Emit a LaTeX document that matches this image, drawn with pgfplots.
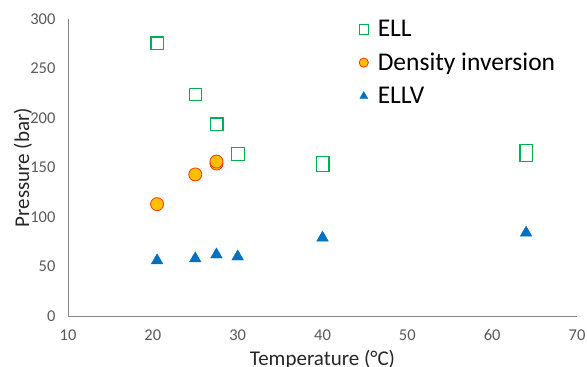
\documentclass[border=0pt]{standalone}
\usepackage{fontspec}
\setmainfont{Carlito}
\usepackage{pgfplots}
\pgfplotsset{compat=1.18}
\definecolor{ellgreen}{HTML}{00B050}
\definecolor{densfill}{HTML}{FFC000}
\definecolor{densdraw}{HTML}{FF3300}
\definecolor{ellvblue}{HTML}{0070C0}
\definecolor{ticktext}{HTML}{595959}
\definecolor{axisgray}{HTML}{868686}
\pgfplotstableread{
T P
20.5 276
25 224
27.5 194
30 164
40 153
40 155
64 163
64 167
}\ELLdata
\begin{document}
\begin{tikzpicture}
\begin{axis}[
  scale only axis, width=509pt, height=297pt,
  xmin=10, xmax=70, ymin=0, ymax=300,
  xtick={10,20,...,70}, ytick={0,50,...,300},
  axis x line*=bottom, axis y line*=left,
  axis line style={axisgray, line width=0.8pt},
  major tick length=0pt,
  /pgf/number format/assume math mode=true,
  tick label style={font=\fontsize{16.5}{19}\selectfont, color=ticktext},
  xticklabel style={yshift=-10pt},
  yticklabel style={xshift=-9pt},
  xlabel={Temperature (°C)}, ylabel={Pressure (bar)},
  label style={font=\fontsize{21}{25}\selectfont, color=black!85},
  xlabel style={at={(rel axis cs:0.5,0)}, anchor=center, yshift=-44pt},
  ylabel style={at={(rel axis cs:0,0.5)}, anchor=center, yshift=45pt},
  legend style={draw=none, fill=none, at={(rel axis cs:0.565,1.01)}, anchor=north west,
    font=\fontsize{25.5}{30}\selectfont, row sep=11pt},
  legend cell align=left,
  legend image post style={mark size=4.6pt},
]
\addplot[only marks, color=ellgreen, mark=square*, mark size=6.4pt, mark options={fill=ellgreen, draw=ellgreen, line width=0.4pt},
  legend image code/.code={
    \fill[ellgreen] (0.3cm-4.8pt,-4.8pt) rectangle (0.3cm+4.8pt,4.8pt);
    \fill[white] (0.3cm-3.6pt,-3.6pt) rectangle (0.3cm+3.6pt,3.6pt);}]
  table[x=T,y=P] {\ELLdata};
\addlegendentry{\hspace{7pt}ELL}
\addplot[only marks, forget plot, color=white, mark=square*, mark size=5.1pt, mark options={fill=white, draw=white, line width=0.2pt}]
  table[x=T,y=P] {\ELLdata};
\addplot[only marks, color=densdraw, mark=*, mark size=6.5pt, mark options={draw=densdraw, fill=densfill, line width=0.8pt}]
  coordinates {(20.5,113) (25,143) (27.5,154) (27.5,156)};
\addlegendentry{\hspace{7pt}Density inversion}
\addplot[only marks, color=ellvblue, mark=triangle*, mark size=6.8pt, mark options={draw=ellvblue, fill=ellvblue, line width=0.3pt}]
  coordinates {(20.5,56) (25,58) (27.5,62) (30,60) (40,79) (64,84)};
\addlegendentry{\hspace{7pt}ELLV}
\end{axis}
\pgfresetboundingbox
\path[use as bounding box] (-68pt,-51pt) rectangle (519pt,316pt);
\end{tikzpicture}
\end{document}
